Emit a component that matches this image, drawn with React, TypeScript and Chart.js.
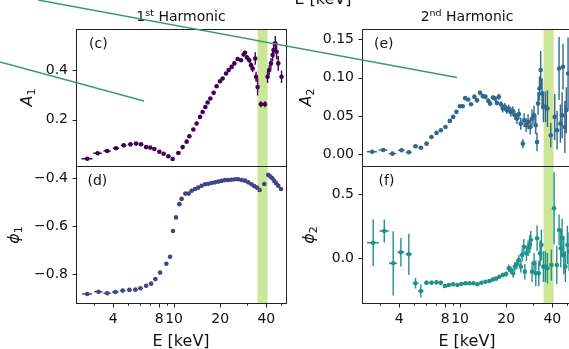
import React, { useEffect, useRef } from "react";
import { Chart, registerables } from "chart.js";

Chart.register(...registerables);

const FONT = "'DejaVu Sans', 'Liberation Sans', sans-serif";
const INK = "#111";

// ---------- shared x axis ----------
const X_MIN = 2.29;
const X_MAX = 53.8;
const X_MAJOR = [4, 8, 10, 20, 40];
const X_MINOR = [3, 5, 6, 7, 9, 30, 50];
const BAND = [35.1, 40.8];

// ---------- (c) first harmonic amplitude ----------
const E_C = [2.71, 3.17, 3.66, 4.18, 4.69, 5.19, 5.65, 6.09, 6.57, 7.0, 7.44, 8.02, 8.55, 9.18, 9.79,
  10.67, 11.38, 12.08, 12.59, 13.36, 14.04, 14.78, 15.37, 16.0, 16.56, 17.25, 18.13, 18.96, 19.95, 20.75,
  21.84, 22.7, 23.76, 24.74, 26.0, 27.35, 28.45, 29.05, 29.94, 30.98, 31.8, 32.57, 33.9, 34.3, 35.1,
  36.9, 39.2, 40.8, 41.8, 42.9, 44.0, 44.6, 45.8, 46.7, 47.9, 50.3];
const A1 = [0.042, 0.064, 0.073, 0.084, 0.096, 0.100, 0.103, 0.100, 0.089, 0.087, 0.081, 0.070, 0.062, 0.052, 0.041,
  0.065, 0.089, 0.111, 0.133, 0.160, 0.184, 0.211, 0.231, 0.251, 0.269, 0.285, 0.308, 0.335, 0.355, 0.366,
  0.386, 0.400, 0.413, 0.427, 0.445, 0.440, 0.463, 0.470, 0.451, 0.440, 0.420, 0.406, 0.447, 0.373, 0.332,
  0.262, 0.262, 0.373, 0.400, 0.427, 0.461, 0.481, 0.508, 0.474, 0.427, 0.373];
const A1_ERR = [0.004, 0.004, 0.004, 0.004, 0.004, 0.004, 0.004, 0.004, 0.004, 0.004, 0.004, 0.004, 0.004, 0.004, 0.004,
  0.004, 0.004, 0.004, 0.004, 0.004, 0.004, 0.004, 0.004, 0.004, 0.004, 0.004, 0.004, 0.004, 0.004, 0.004,
  0.005, 0.005, 0.005, 0.005, 0.005, 0.006, 0.008, 0.008, 0.010, 0.010, 0.012, 0.015, 0.025, 0.020, 0.035,
  0.012, 0.012, 0.025, 0.020, 0.022, 0.025, 0.030, 0.030, 0.030, 0.030, 0.025];
const E_C_ERR = [0.22, 0.2, 0.2, 0.2, 0.2, 0.2, 0.2, 0.2, 0.2, 0.2, 0.2, 0.2, 0.2, 0.2, 0.2,
  0.3, 0.3, 0.3, 0.3, 0.3, 0.3, 0.3, 0.3, 0.3, 0.3, 0.3, 0.3, 0.3, 0.3, 0.3,
  0.5, 0.5, 0.5, 0.5, 0.5, 0.5, 0.5, 0.5, 0.5, 0.5, 0.5, 0.5, 0.5, 0.5, 0.5,
  1.1, 1.1, 0.6, 0.6, 0.6, 0.6, 0.6, 0.6, 0.6, 0.6, 0.6];
const A1_TICKS = [0.2, 0.4];
const A1_TICK_LABELS = ["0.2", "0.4"];

// ---------- (d) first harmonic phase ----------
const E_D = [2.71, 3.21, 3.66, 4.14, 4.62, 5.11, 5.59, 6.03, 6.57, 7.08, 7.55, 8.1, 8.91, 9.42, 9.85,
  10.3, 10.83, 11.2, 11.85, 12.45, 13.02, 13.71, 14.4, 15.14, 15.93, 16.74, 17.6, 18.51, 19.45, 20.44,
  21.51, 22.6, 23.76, 25.0, 26.27, 27.6, 29.05, 30.5, 32.08, 33.4, 34.78, 36.17, 38.82, 41.22, 42.5,
  43.77, 45.1, 46.47, 47.89, 49.9];
const PHI1 = [-0.882, -0.873, -0.879, -0.874, -0.868, -0.865, -0.864, -0.858, -0.848, -0.839, -0.820, -0.793, -0.756, -0.727, -0.620,
  -0.563, -0.508, -0.486, -0.464, -0.464, -0.452, -0.445, -0.439, -0.431, -0.425, -0.423, -0.420, -0.417, -0.414, -0.411,
  -0.408, -0.407, -0.406, -0.404, -0.404, -0.407, -0.410, -0.417, -0.425, -0.433, -0.439, -0.449, -0.424, -0.386, -0.393,
  -0.400, -0.411, -0.421, -0.431, -0.445];
const PHI1_ERR = [0.005, 0.004, 0.004, 0.004, 0.004, 0.004, 0.004, 0.004, 0.004, 0.004, 0.004, 0.004, 0.004, 0.004, 0.004,
  0.004, 0.004, 0.004, 0.004, 0.004, 0.004, 0.004, 0.004, 0.004, 0.004, 0.004, 0.004, 0.004, 0.004, 0.004,
  0.004, 0.004, 0.004, 0.004, 0.004, 0.004, 0.004, 0.005, 0.005, 0.005, 0.006, 0.006, 0.006, 0.008, 0.008,
  0.008, 0.008, 0.008, 0.008, 0.008];
const E_D_ERR = [0.2, 0.2, 0.2, 0.2, 0.2, 0.2, 0.2, 0.2, 0.2, 0.2, 0.2, 0.2, 0.2, 0.2, 0.2,
  0.3, 0.3, 0.3, 0.3, 0.3, 0.3, 0.3, 0.3, 0.3, 0.3, 0.3, 0.3, 0.3, 0.3, 0.3,
  0.5, 0.5, 0.5, 0.5, 0.5, 0.5, 0.5, 0.5, 0.5, 0.5, 0.5, 0.5, 1.1, 0.6, 0.6,
  0.6, 0.6, 0.6, 0.6, 0.6];
const PHI1_TICKS = [-0.8, -0.6, -0.4];
const PHI1_TICK_LABELS = ["\u22120.8", "\u22120.6", "\u22120.4"];

// ---------- (e) second harmonic amplitude ----------
const E_E = [2.67, 3.15, 3.62, 4.15, 4.63, 5.12, 5.55, 6.04, 6.51, 7.02, 7.5, 8.03, 8.58, 9.02, 9.47,
  9.97, 10.4, 10.8, 11.3, 11.8, 12.4, 12.9, 13.5, 14.1, 14.65, 15.3, 15.7, 16.4, 16.9, 17.4,
  17.9, 18.5, 19.0, 19.6, 20.2, 20.8, 21.45, 22.1, 22.8, 23.5, 24.2, 24.9, 25.7, 26.2, 27.0,
  27.8, 28.7, 29.5, 30.4, 31.2, 31.8, 32.3, 33.0, 33.6, 34.3, 35.0, 36.1, 37.2, 39.1, 41.5,
  43.0, 44.3, 45.2, 46.4, 47.0, 48.3, 49.4, 50.7];
const A2 = [0.0034, 0.0056, 0.0008, 0.0052, 0.0026, 0.0105, 0.0086, 0.0139, 0.0226, 0.0279, 0.0314, 0.0357, 0.0436, 0.0488, 0.0554,
  0.0628, 0.0628, 0.0733, 0.0715, 0.0654, 0.0750, 0.0707, 0.0802, 0.0759, 0.0750, 0.0698, 0.0662, 0.0741, 0.0728, 0.0671,
  0.0750, 0.0654, 0.0597, 0.0619, 0.0576, 0.0597, 0.0550, 0.0567, 0.0510, 0.0466, 0.0524, 0.0400, 0.0139, 0.0445, 0.0380,
  0.0423, 0.0357, 0.0466, 0.0510, 0.0380, 0.0161, 0.0662, 0.0859, 0.1100, 0.0793, 0.0619, 0.0619, 0.0597, 0.0249, 0.0488,
  0.0314, 0.1120, 0.0400, 0.0510, 0.1143, 0.0357, 0.0576, 0.1055];
const A2_ERR = [0.002, 0.002, 0.002, 0.002, 0.002, 0.002, 0.002, 0.002, 0.002, 0.002, 0.002, 0.002, 0.002, 0.002, 0.002,
  0.002, 0.002, 0.002, 0.002, 0.002, 0.003, 0.003, 0.003, 0.003, 0.003, 0.003, 0.003, 0.003, 0.003, 0.003,
  0.004, 0.004, 0.005, 0.005, 0.005, 0.005, 0.006, 0.006, 0.006, 0.007, 0.007, 0.008, 0.006, 0.009, 0.009,
  0.010, 0.010, 0.012, 0.012, 0.012, 0.012, 0.015, 0.016, 0.025, 0.020, 0.020, 0.020, 0.024, 0.016, 0.030,
  0.025, 0.041, 0.025, 0.030, 0.030, 0.034, 0.030, 0.047];
const E_E_ERR = [0.2, 0.2, 0.2, 0.2, 0.2, 0.2, 0.2, 0.2, 0.2, 0.2, 0.2, 0.2, 0.2, 0.2, 0.2,
  0.2, 0.3, 0.3, 0.3, 0.3, 0.3, 0.3, 0.3, 0.3, 0.3, 0.3, 0.3, 0.3, 0.3, 0.3,
  0.3, 0.3, 0.3, 0.3, 0.3, 0.4, 0.4, 0.4, 0.4, 0.4, 0.4, 0.4, 0.4, 0.4, 0.4,
  0.4, 0.4, 0.4, 0.4, 0.4, 0.4, 0.4, 0.4, 0.4, 0.4, 0.4, 0.4, 0.4, 0.4, 0.4,
  0.4, 0.4, 0.4, 0.4, 0.4, 0.4, 0.4, 0.4];
const A2_TICKS = [0, 0.05, 0.1, 0.15];
const A2_TICK_LABELS = ["0.00", "0.05", "0.10", "0.15"];

// ---------- (f) second harmonic phase ----------
const E_F = [2.71, 3.2, 3.66, 4.11, 4.63, 5.12, 5.55, 6.04, 6.51, 7.02, 7.49, 7.96, 8.45, 9.02, 9.62,
  10.21, 10.84, 11.52, 12.23, 12.99, 13.79, 14.65, 15.55, 16.37, 17.2, 18.07, 19.02, 19.98, 20.81, 21.45,
  22.2, 22.78, 23.48, 24.19, 24.93, 25.42, 26.08, 26.47, 27.11, 27.81, 28.53, 28.96, 29.53, 30.43, 31.22,
  31.84, 32.66, 33.31, 33.96, 34.99, 36.06, 37.16, 39.46, 41.1, 42.8, 44.3, 45.45, 46.35, 47.55, 48.7,
  50.2, 51.5];
const PHI2 = [0.121, 0.212, -0.039, 0.047, 0.031, -0.194, -0.254, -0.190, -0.190, -0.187, -0.190, -0.215, -0.208, -0.202, -0.208,
  -0.200, -0.194, -0.194, -0.194, -0.202, -0.190, -0.182, -0.177, -0.165, -0.158, -0.143, -0.130, -0.122, -0.078, -0.091,
  -0.117, -0.065, -0.047, -0.013, -0.065, 0.026, 0.090, -0.104, 0.039, 0.078, 0.109, 0.142, -0.104, -0.039, -0.117,
  0.156, -0.117, 0.039, 0.103, -0.065, -0.065, -0.078, -0.052, 0.389, -0.052, 0.220, 0.078, 0.156, 0.026, -0.065,
  0.103, 0.052];
const PHI2_ERR = [0.18, 0.09, 0.25, 0.11, 0.16, 0.04, 0.05, 0.02, 0.015, 0.015, 0.015, 0.012, 0.012, 0.012, 0.012,
  0.01, 0.01, 0.01, 0.01, 0.01, 0.01, 0.012, 0.012, 0.015, 0.015, 0.015, 0.018, 0.02, 0.03, 0.03,
  0.035, 0.035, 0.04, 0.04, 0.045, 0.05, 0.06, 0.06, 0.06, 0.06, 0.07, 0.07, 0.08, 0.08, 0.1,
  0.1, 0.1, 0.1, 0.12, 0.12, 0.12, 0.12, 0.12, 0.28, 0.15, 0.12, 0.15, 0.15, 0.15, 0.12,
  0.15, 0.15];
const E_F_ERR = [0.24, 0.22, 0.22, 0.22, 0.22, 0.22, 0.22, 0.22, 0.22, 0.22, 0.22, 0.22, 0.22, 0.22, 0.22,
  0.3, 0.3, 0.3, 0.3, 0.3, 0.3, 0.3, 0.3, 0.3, 0.3, 0.3, 0.3, 0.3, 0.4, 0.4,
  0.4, 0.4, 0.4, 0.4, 0.4, 0.4, 0.4, 0.4, 0.4, 0.4, 0.4, 0.4, 0.4, 0.4, 0.4,
  0.4, 0.4, 0.4, 0.4, 0.4, 0.4, 0.4, 0.4, 0.4, 0.4, 0.4, 0.4, 0.4, 0.4, 0.4,
  0.4, 0.4];
const PHI2_TICKS = [0, 0.5];
const PHI2_TICK_LABELS = ["0.0", "0.5"];

// ---------- layout ----------
const CW = 620;
const CH = 349;
const YW = 70;
const XH = 40;

type Panel = {
  id: string;
  E: number[]; EERR: number[]; Y: number[]; YERR: number[];
  color: string; yMin: number; yMax: number; yTicks: number[]; yLabels: string[];
  area: { l: number; t: number; r: number; b: number }; showX: boolean;
};

const PANELS: Panel[] = [
  { id: "c", E: E_C, EERR: E_C_ERR, Y: A1, YERR: A1_ERR, color: "#440154", yMin: 0.0126, yMax: 0.566,
    yTicks: A1_TICKS, yLabels: A1_TICK_LABELS, area: { l: 76, t: 29, r: 286, b: 166 }, showX: false },
  { id: "d", E: E_D, EERR: E_D_ERR, Y: PHI1, YERR: PHI1_ERR, color: "#414487", yMin: -0.9217, yMax: -0.349,
    yTicks: PHI1_TICKS, yLabels: PHI1_TICK_LABELS, area: { l: 76, t: 166, r: 286, b: 303.5 }, showX: true },
  { id: "e", E: E_E, EERR: E_E_ERR, Y: A2, YERR: A2_ERR, color: "#31688e", yMin: -0.0153, yMax: 0.1636,
    yTicks: A2_TICKS, yLabels: A2_TICK_LABELS, area: { l: 362, t: 29, r: 572, b: 166 }, showX: false },
  { id: "f", E: E_F, EERR: E_F_ERR, Y: PHI2, YERR: PHI2_ERR, color: "#21918c", yMin: -0.3515, yMax: 0.7177,
    yTicks: PHI2_TICKS, yLabels: PHI2_TICK_LABELS, area: { l: 362, t: 166, r: 572, b: 303.5 }, showX: true },
];

function makeChart(canvas: HTMLCanvasElement, p: Panel) {
  const xh = p.showX ? XH : 0;
  const padding = {
    left: p.area.l - YW,
    top: p.area.t,
    right: CW - p.area.r,
    bottom: CH - p.area.b - xh,
  };
  const deco = {
    id: "deco_" + p.id,
    beforeDatasetsDraw(chart: any) {
      const { ctx, chartArea: a, scales } = chart;
      const x = scales.x, y = scales.y;
      ctx.save();
      ctx.beginPath();
      ctx.rect(a.left, a.top, a.right - a.left, a.bottom - a.top);
      ctx.clip();
      const b0 = x.getPixelForValue(BAND[0]);
      const b1 = x.getPixelForValue(BAND[1]);
      ctx.fillStyle = "rgba(154,205,50,0.5)";
      ctx.fillRect(b0, a.top, b1 - b0, a.bottom - a.top);
      ctx.strokeStyle = p.color;
      ctx.lineWidth = 1.4;
      ctx.beginPath();
      for (let i = 0; i < p.E.length; i++) {
        const cx = x.getPixelForValue(p.E[i]);
        const cy = y.getPixelForValue(p.Y[i]);
        ctx.moveTo(cx, y.getPixelForValue(p.Y[i] - p.YERR[i]));
        ctx.lineTo(cx, y.getPixelForValue(p.Y[i] + p.YERR[i]));
        ctx.moveTo(x.getPixelForValue(p.E[i] - p.EERR[i]), cy);
        ctx.lineTo(x.getPixelForValue(p.E[i] + p.EERR[i]), cy);
      }
      ctx.stroke();
      ctx.restore();
    },
    afterDraw(chart: any) {
      const { ctx, chartArea: a, scales } = chart;
      const x = scales.x, y = scales.y;
      ctx.save();
      ctx.strokeStyle = "#222";
      ctx.lineWidth = 1;
      ctx.strokeRect(Math.floor(a.left) + 0.5, Math.floor(a.top) + 0.5,
        Math.floor(a.right) - Math.floor(a.left), Math.floor(a.bottom) - Math.floor(a.top));
      ctx.beginPath();
      for (const v of p.yTicks) {
        const py = Math.round(y.getPixelForValue(v)) + 0.5;
        ctx.moveTo(a.left - 3.5, py);
        ctx.lineTo(a.left, py);
      }
      if (p.showX) {
        const bt = Math.floor(a.bottom) + 0.5;
        for (const v of X_MAJOR) {
          const px = Math.round(x.getPixelForValue(v)) + 0.5;
          ctx.moveTo(px, bt);
          ctx.lineTo(px, bt + 4);
        }
        for (const v of X_MINOR) {
          const px = Math.round(x.getPixelForValue(v)) + 0.5;
          ctx.moveTo(px, bt);
          ctx.lineTo(px, bt + 2.2);
        }
      }
      ctx.stroke();
      ctx.restore();
    },
  };

  return new Chart(canvas, {
    type: "scatter",
    data: {
      datasets: [{
        data: p.E.map((e, i) => ({ x: e, y: p.Y[i] })),
        backgroundColor: p.color,
        borderColor: p.color,
        pointRadius: 2.3,
        pointBorderWidth: 0,
        pointHoverRadius: 2.3,
      }],
    },
    options: {
      animation: false,
      responsive: false,
      maintainAspectRatio: false,
      devicePixelRatio: 1,
      events: [],
      layout: { padding },
      plugins: { legend: { display: false }, tooltip: { enabled: false }, title: { display: false } },
      scales: {
        x: {
          type: "logarithmic",
          min: X_MIN,
          max: X_MAX,
          display: p.showX,
          grid: { display: false, drawTicks: false },
          border: { display: false },
          ticks: {
            autoSkip: false,
            maxRotation: 0,
            minRotation: 0,
            padding: 7,
            color: INK,
            font: { family: FONT, size: 14 },
            callback: (v: any) => String(v),
          },
          afterBuildTicks: (s: any) => { s.ticks = X_MAJOR.map((v) => ({ value: v })); },
          afterFit: (s: any) => { s.height = xh; },
        },
        y: {
          type: "linear",
          min: p.yMin,
          max: p.yMax,
          grid: { display: false, drawTicks: false },
          border: { display: false },
          ticks: {
            autoSkip: false,
            padding: 8,
            color: INK,
            font: { family: FONT, size: 14 },
            callback: (v: any) => {
              const k = p.yTicks.findIndex((t) => Math.abs(t - v) < 1e-9);
              return k >= 0 ? p.yLabels[k] : "";
            },
          },
          afterBuildTicks: (s: any) => { s.ticks = p.yTicks.map((v) => ({ value: v })); },
          afterFit: (s: any) => { s.width = YW; },
        },
      },
    } as any,
    plugins: [deco],
  });
}

export default function App() {
  const refs = useRef<(HTMLCanvasElement | null)[]>([]);
  useEffect(() => {
    const charts = PANELS.map((p, i) => makeChart(refs.current[i] as HTMLCanvasElement, p));
    return () => charts.forEach((c) => c.destroy());
  }, []);

  const lineColor = "#3d9a6b";
  return (
    <div style={{ position: "fixed", left: 0, top: 0, width: 569, height: 349, overflow: "hidden", background: "#fff" }}>
      {PANELS.map((p, i) => (
        <canvas
          key={p.id}
          ref={(el) => { refs.current[i] = el; }}
          width={CW}
          height={CH}
          style={{ position: "absolute", left: 0, top: 0, width: CW, height: CH }}
        />
      ))}
      <svg width={569} height={349} style={{ position: "absolute", left: 0, top: 0 }}
        fontFamily="DejaVu Sans, sans-serif" fill={INK}>
        <text x={323} y={4} fontSize={16} textAnchor="middle">E [keV]</text>
        <text x={181} y={21} fontSize={14} textAnchor="middle">1<tspan fontSize={9.5} dy={-5}>st</tspan><tspan dy={5}> Harmonic</tspan></text>
        <text x={467} y={21} fontSize={14} textAnchor="middle">2<tspan fontSize={9.5} dy={-5}>nd</tspan><tspan dy={5}> Harmonic</tspan></text>
        <text x={89} y={48} fontSize={14}>(c)</text>
        <text x={87.5} y={185} fontSize={14}>(d)</text>
        <text x={374} y={48} fontSize={14}>(e)</text>
        <text x={378.5} y={185} fontSize={14}>(f)</text>
        <text x={181} y={345.5} fontSize={16} textAnchor="middle">E [keV]</text>
        <text x={467} y={345.5} fontSize={16} textAnchor="middle">E [keV]</text>
        <text transform="translate(32,97.5) rotate(-90)" fontSize={16} textAnchor="middle"><tspan fontStyle="italic">A</tspan><tspan fontSize={11} dy={3}>1</tspan></text>
        <text transform="translate(18.5,235) rotate(-90)" fontSize={16} textAnchor="middle"><tspan fontStyle="italic">{"\u03D5"}</tspan><tspan fontSize={11} dy={3}>1</tspan></text>
        <text transform="translate(311,97.5) rotate(-90)" fontSize={16} textAnchor="middle"><tspan fontStyle="italic">A</tspan><tspan fontSize={11} dy={3}>2</tspan></text>
        <text transform="translate(314,235) rotate(-90)" fontSize={16} textAnchor="middle"><tspan fontStyle="italic">{"\u03D5"}</tspan><tspan fontSize={11} dy={3}>2</tspan></text>
        <line x1={38} y1={0} x2={457} y2={77.5} stroke={lineColor} strokeWidth={1.5} />
        <line x1={0} y1={62} x2={144} y2={101} stroke={lineColor} strokeWidth={1.5} />
      </svg>
    </div>
  );
}
